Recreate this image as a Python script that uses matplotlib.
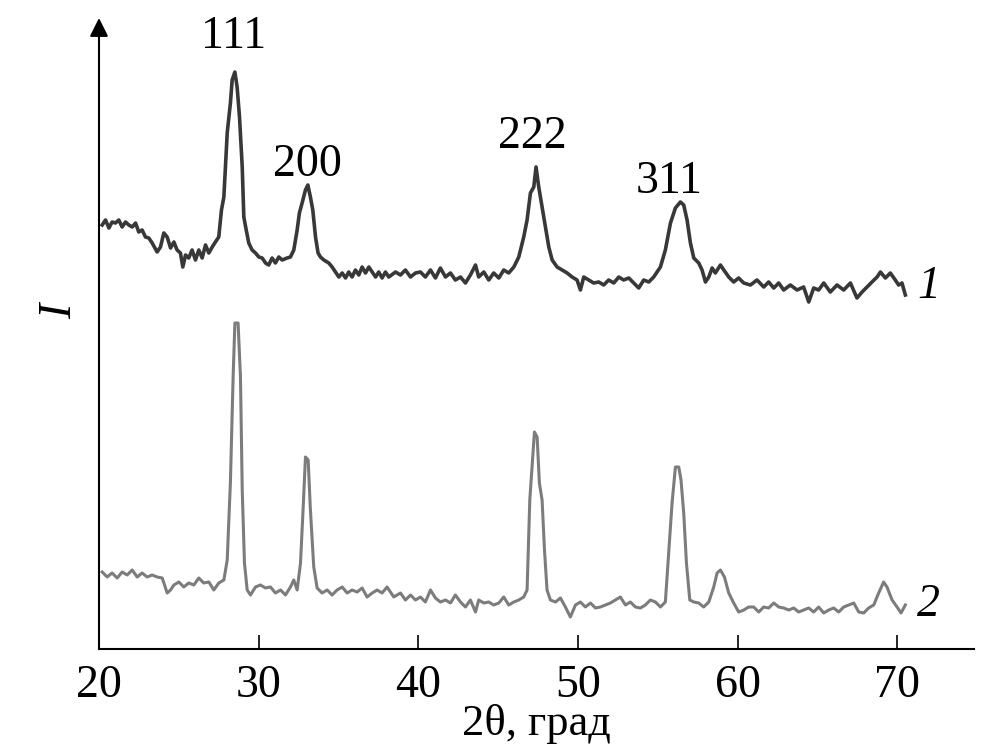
import matplotlib.pyplot as plt

# XRD pattern 1 (upper trace): 2theta in degrees, intensity in arbitrary units
theta1 = [20.20, 20.41, 20.62, 20.82, 21.03, 21.24, 21.45, 21.66, 21.87, 22.08,
          22.29, 22.49, 22.70, 22.91, 23.12, 23.33, 23.64, 23.85, 24.06, 24.27,
          24.48, 24.69, 24.89, 25.10, 25.25, 25.42, 25.62, 25.83, 26.04, 26.25,
          26.46, 26.67, 26.88, 27.09, 27.29, 27.50, 27.67, 27.82, 28.03, 28.23,
          28.34, 28.51, 28.65, 28.80, 28.97, 29.07, 29.22, 29.38, 29.59, 29.80,
          30.01, 30.22, 30.43, 30.63, 30.84, 31.05, 31.26, 31.47, 31.78, 31.99,
          32.20, 32.41, 32.55, 32.72, 32.93, 33.08, 33.24, 33.39, 33.56, 33.72,
          33.87, 34.08, 34.39, 34.60, 34.81, 35.02, 35.23, 35.44, 35.64, 35.85,
          36.06, 36.27, 36.48, 36.69, 36.90, 37.11, 37.32, 37.52, 37.73, 37.94,
          38.15, 38.57, 38.88, 39.19, 39.51, 39.82, 40.13, 40.44, 40.76, 41.07,
          41.38, 41.70, 42.01, 42.32, 42.64, 42.95, 43.26, 43.58, 43.78, 44.10,
          44.41, 44.72, 45.04, 45.35, 45.66, 45.98, 46.29, 46.60, 46.81, 47.02,
          47.23, 47.37, 47.54, 47.75, 47.96, 48.17, 48.38, 48.69, 49.00, 49.32,
          49.63, 49.94, 50.15, 50.36, 50.67, 50.98, 51.30, 51.61, 51.92, 52.24,
          52.55, 52.86, 53.18, 53.49, 53.80, 54.12, 54.43, 54.74, 55.16, 55.47,
          55.79, 56.10, 56.41, 56.62, 56.83, 57.04, 57.25, 57.56, 57.77, 57.98,
          58.19, 58.40, 58.60, 58.92, 59.13, 59.44, 59.75, 60.06, 60.38, 60.80,
          61.21, 61.63, 61.94, 62.26, 62.57, 62.88, 63.30, 63.72, 64.13, 64.45,
          64.76, 65.07, 65.39, 65.80, 66.22, 66.64, 67.06, 67.47, 67.79, 68.10,
          68.41, 68.73, 68.94, 69.25, 69.56, 69.87, 70.08, 70.29, 70.50]
counts1 = [424, 429, 421, 427, 426, 429, 422, 427, 424, 422,
           426, 417, 419, 412, 411, 406, 397, 402, 416, 412,
           401, 407, 399, 396, 382, 394, 391, 399, 389, 399,
           391, 404, 396, 402, 407, 412, 439, 452, 516, 546,
           569, 577, 562, 532, 482, 432, 419, 406, 399, 396,
           392, 391, 386, 384, 391, 386, 392, 389, 391, 392,
           399, 419, 436, 446, 459, 464, 452, 439, 412, 396,
           392, 389, 386, 382, 377, 372, 376, 371, 377, 372,
           379, 374, 382, 376, 382, 377, 372, 377, 371, 377,
           372, 377, 374, 379, 372, 376, 377, 372, 379, 371,
           381, 372, 376, 369, 372, 366, 374, 384, 372, 377,
           369, 376, 371, 379, 376, 382, 392, 412, 429, 456,
           462, 482, 462, 442, 422, 402, 389, 382, 379, 376,
           372, 369, 359, 372, 369, 366, 367, 364, 369, 366,
           372, 369, 371, 366, 361, 369, 367, 372, 382, 399,
           426, 441, 447, 444, 429, 406, 391, 386, 379, 367,
           372, 381, 376, 384, 379, 372, 367, 371, 366, 364,
           369, 362, 367, 361, 366, 359, 364, 359, 362, 347,
           361, 359, 366, 357, 364, 359, 366, 351, 357, 362,
           367, 372, 377, 371, 376, 369, 364, 366, 354]

# XRD pattern 2 (lower trace)
theta2 = [20.20, 20.51, 20.82, 21.14, 21.45, 21.76, 22.08, 22.39, 22.70, 23.02,
          23.33, 23.64, 23.96, 24.27, 24.48, 24.69, 25.00, 25.31, 25.62, 25.94,
          26.25, 26.56, 26.88, 27.19, 27.50, 27.82, 28.03, 28.23, 28.40, 28.51,
          28.71, 28.86, 28.97, 29.11, 29.28, 29.49, 29.80, 30.11, 30.43, 30.74,
          31.05, 31.37, 31.68, 31.99, 32.20, 32.41, 32.62, 32.78, 32.93, 33.10,
          33.24, 33.45, 33.66, 33.97, 34.29, 34.60, 34.91, 35.23, 35.54, 35.85,
          36.17, 36.48, 36.79, 37.11, 37.42, 37.73, 38.04, 38.46, 38.88, 39.19,
          39.51, 39.82, 40.13, 40.44, 40.76, 41.07, 41.38, 41.70, 42.01, 42.32,
          42.64, 42.95, 43.26, 43.58, 43.78, 44.10, 44.41, 44.72, 45.04, 45.35,
          45.66, 45.98, 46.29, 46.60, 46.81, 46.98, 47.12, 47.27, 47.44, 47.58,
          47.75, 47.90, 48.06, 48.27, 48.59, 48.90, 49.21, 49.52, 49.84, 50.15,
          50.46, 50.78, 51.09, 51.40, 51.72, 52.03, 52.34, 52.65, 52.97, 53.28,
          53.59, 53.91, 54.22, 54.53, 54.85, 55.16, 55.47, 55.68, 55.89, 56.10,
          56.31, 56.45, 56.62, 56.79, 57.00, 57.25, 57.56, 57.87, 58.19, 58.50,
          58.71, 58.92, 59.17, 59.44, 59.75, 60.06, 60.38, 60.69, 61.00, 61.32,
          61.63, 61.94, 62.26, 62.57, 62.88, 63.20, 63.51, 63.82, 64.13, 64.45,
          64.76, 65.07, 65.39, 65.70, 66.01, 66.33, 66.64, 66.95, 67.27, 67.58,
          67.89, 68.20, 68.52, 68.83, 69.14, 69.35, 69.67, 69.98, 70.23, 70.50]
counts2 = [77, 72, 76, 71, 77, 74, 79, 72, 76, 72,
           74, 72, 71, 56, 59, 64, 67, 62, 66, 64,
           71, 66, 67, 59, 66, 69, 89, 167, 272, 326,
           326, 272, 159, 86, 59, 54, 62, 64, 61, 62,
           56, 59, 54, 62, 69, 59, 86, 139, 192, 189,
           139, 82, 61, 56, 59, 54, 59, 62, 56, 59,
           57, 61, 52, 56, 59, 56, 62, 52, 56, 49,
           54, 49, 52, 47, 59, 51, 47, 49, 46, 54,
           47, 42, 49, 37, 49, 46, 47, 44, 46, 52,
           44, 47, 49, 52, 59, 149, 182, 217, 212, 166,
           149, 99, 59, 49, 47, 51, 42, 32, 44, 47,
           42, 46, 41, 42, 44, 46, 49, 52, 44, 47,
           42, 41, 44, 49, 47, 42, 47, 96, 146, 182,
           182, 169, 136, 86, 49, 47, 46, 42, 47, 62,
           76, 79, 72, 56, 46, 37, 39, 42, 42, 37,
           42, 41, 46, 42, 41, 39, 41, 37, 39, 41,
           37, 42, 36, 39, 41, 37, 42, 44, 46, 37,
           36, 41, 44, 56, 67, 62, 49, 42, 36, 44]

hkl = ['111', '200', '222', '311']
hkl_theta = [28.42, 33.06, 47.14, 55.72]
x_ticks = [20, 30, 40, 50, 60, 70]

plt.rcParams['font.family'] = ['Liberation Serif', 'DejaVu Serif']

fig = plt.figure(figsize=(10.04, 7.56), dpi=100)
ax = fig.add_axes([99 / 1004, 1 - 649 / 756, 875 / 1004, 631 / 756])

ax.plot(theta1, counts1, color='#383838', lw=2.6, solid_joinstyle='round')
ax.plot(theta2, counts2, color='#7c7c7c', lw=2.2, solid_joinstyle='round')

ax.set_xlim(20, 74.8)
ax.set_ylim(0, 631)

for side in ['top', 'right', 'left']:
    ax.spines[side].set_visible(False)
ax.spines['bottom'].set_linewidth(1.5)

# y axis drawn as an arrow
ax.annotate('', xy=(0, 1), xytext=(0, 0), xycoords='axes fraction',
            arrowprops=dict(arrowstyle='-|>', lw=1.5, color='k',
                            mutation_scale=28, shrinkA=0, shrinkB=0))

ax.set_yticks([])
ax.set_xticks(x_ticks)
ax.tick_params(axis='x', direction='in', length=10, width=1.2,
               labelsize=33, pad=11)

ax.set_xlabel('2θ, град', fontsize=32, labelpad=-2)
ax.text(-0.045, 0.535, 'I', style='italic', fontsize=33, rotation=90,
        ha='center', va='center', transform=ax.transAxes)

# reflection labels above the peaks of trace 1
label_heights = [612, 484, 512, 467]
for name, t, h in zip(hkl, hkl_theta, label_heights):
    ax.text(t, h, name, fontsize=33, ha='center', va='center')

# trace numbers
ax.text(72.0, 362, '1', style='italic', fontsize=33, ha='center', va='center')
ax.text(71.94, 44, '2', style='italic', fontsize=33, ha='center', va='center')

fig.savefig('out.png', dpi=100)
